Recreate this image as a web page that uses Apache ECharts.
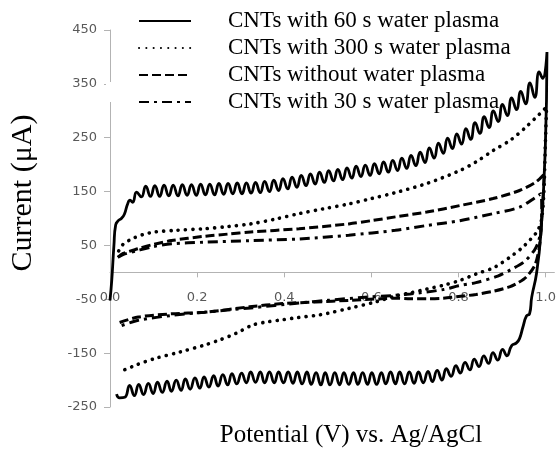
<!DOCTYPE html>
<html><head><meta charset="utf-8">
<script src="https://cdn.jsdelivr.net/npm/echarts@6/dist/echarts.min.js"></script>
<style>html,body{margin:0;padding:0;background:#fff}#c{width:559px;height:454px}</style>
</head><body><div id="c"></div>
<script>
const seriesNames = ['CNTs with 60 s water plasma','CNTs with 300 s water plasma','CNTs without water plasma','CNTs with 30 s water plasma'];
const xTicks = [0, 0.2, 0.4, 0.6, 0.8, 1.0];
const yTicks = [-250, -150, -50, 50, 150, 250, 350, 450];

// 60 s (solid) : forward scan rise, ripple, reversal, reverse ripple
const s60Rise = [[0.000,-52],[0.004,-15],[0.009,50],[0.013,88],[0.019,96],[0.026,100],[0.033,108],[0.040,126],[0.046,134],[0.052,130]];
const s60Top = [[0.061,149],[0.072,140],[0.082,160],[0.093,141],[0.103,161],[0.114,141],[0.124,162],[0.135,142],[0.145,162],[0.156,142],[0.166,163],[0.177,143],[0.187,163],[0.198,143],[0.208,164],[0.219,144],[0.229,164],[0.240,144],[0.250,165],[0.261,145],[0.271,165],[0.282,146],[0.292,166],[0.303,146],[0.313,166],[0.324,147],[0.334,167],[0.345,148],[0.355,169],[0.366,150],[0.376,171],[0.387,152],[0.397,174],[0.408,155],[0.418,177],[0.429,158],[0.439,180],[0.450,161],[0.460,183],[0.471,164],[0.481,186],[0.492,167],[0.502,189],[0.513,170],[0.523,191],[0.534,172],[0.544,194],[0.555,175],[0.565,197],[0.576,178],[0.586,199],[0.597,180],[0.607,202],[0.618,183],[0.628,205],[0.639,186],[0.649,208],[0.660,189],[0.670,212],[0.681,193],[0.691,217],[0.702,198],[0.712,223],[0.723,204],[0.733,231],[0.744,212],[0.754,240],[0.765,221],[0.775,249],[0.786,230],[0.796,257],[0.807,238],[0.817,267],[0.828,247],[0.838,278],[0.849,258],[0.859,289],[0.870,269],[0.880,300],[0.891,280],[0.901,312],[0.912,291],[0.922,324],[0.933,302],[0.943,336],[0.954,313],[0.964,352],[0.975,325],[0.985,372],[0.993,360],[1.003,409]];
const s60Turn = [[0.999,226],[0.989,72],[0.979,-2],[0.968,-46],[0.963,-77],[0.956,-81],[0.948,-101],[0.940,-123],[0.933,-131]];
const s60Bottom = [[0.922,-136],[0.911,-155],[0.901,-143],[0.890,-163],[0.879,-149],[0.869,-169],[0.858,-155],[0.847,-175],[0.836,-161],[0.826,-181],[0.815,-167],[0.804,-187],[0.794,-173],[0.783,-193],[0.772,-179],[0.762,-200],[0.751,-182],[0.740,-203],[0.730,-184],[0.719,-205],[0.708,-185],[0.698,-206],[0.687,-185],[0.676,-207],[0.665,-185],[0.655,-207],[0.644,-185],[0.633,-207],[0.623,-186],[0.612,-208],[0.601,-186],[0.591,-208],[0.580,-186],[0.569,-208],[0.559,-186],[0.548,-208],[0.537,-186],[0.527,-209],[0.516,-186],[0.505,-209],[0.494,-186],[0.484,-209],[0.473,-186],[0.462,-208],[0.452,-185],[0.441,-207],[0.430,-185],[0.420,-206],[0.409,-185],[0.398,-205],[0.387,-185],[0.377,-205],[0.366,-185],[0.355,-205],[0.345,-185],[0.334,-204],[0.323,-185],[0.313,-205],[0.302,-187],[0.291,-207],[0.280,-188],[0.270,-209],[0.259,-190],[0.248,-211],[0.238,-192],[0.227,-213],[0.216,-194],[0.206,-215],[0.195,-196],[0.184,-217],[0.173,-198],[0.163,-219],[0.152,-200],[0.141,-221],[0.131,-202],[0.120,-223],[0.109,-204],[0.099,-225],[0.088,-206],[0.077,-227],[0.066,-208],[0.056,-229],[0.045,-210],[0.034,-232],[0.022,-233],[0.015,-226]];

// 300 s (dotted)
const s300Top = [[0.020,40],[0.030,52],[0.050,62],[0.075,70],[0.103,75],[0.150,78],[0.217,81],[0.270,85],[0.323,90],[0.380,99],[0.434,109],[0.490,118],[0.548,127],[0.600,137],[0.655,148],[0.727,165],[0.803,189],[0.840,205],[0.879,226],[0.920,246],[0.955,270],[0.986,294],[1.002,307]];
const s300Bottom = [[0.999,230],[0.996,150],[0.991,100],[0.982,78],[0.966,62],[0.945,45],[0.921,30],[0.900,18],[0.879,8],[0.840,-3],[0.803,-15],[0.765,-24],[0.727,-31],[0.690,-38],[0.655,-44],[0.609,-55],[0.548,-67],[0.500,-76],[0.472,-80],[0.430,-84],[0.396,-88],[0.360,-92],[0.327,-98],[0.290,-113],[0.250,-126],[0.217,-135],[0.160,-148],[0.103,-160],[0.060,-172],[0.019,-186]];

// without plasma (dashed)
const s0Top = [[0.018,28],[0.030,35],[0.065,44],[0.100,52],[0.141,59],[0.217,67],[0.270,71],[0.323,75],[0.434,81],[0.548,90],[0.600,96],[0.655,103],[0.727,112],[0.803,124],[0.879,137],[0.940,152],[0.978,168],[0.997,183]];
const s0Bottom = [[0.995,150],[0.991,100],[0.986,50],[0.975,13],[0.955,-9],[0.935,-20],[0.917,-27],[0.880,-35],[0.840,-41],[0.800,-45],[0.765,-48],[0.727,-49],[0.690,-49],[0.655,-48],[0.624,-49],[0.548,-52],[0.472,-55],[0.396,-58],[0.320,-64],[0.217,-74],[0.141,-77],[0.065,-83],[0.015,-95]];

// 30 s (dash-dot)
const s30Top = [[0.018,28],[0.030,33],[0.065,41],[0.100,48],[0.141,53],[0.217,56],[0.323,59],[0.434,62],[0.548,69],[0.655,78],[0.727,87],[0.803,96],[0.879,109],[0.940,121],[0.978,140],[0.989,146]];
const s30Bottom = [[0.991,115],[0.989,78],[0.983,56],[0.974,41],[0.951,20],[0.920,5],[0.890,-7],[0.840,-19],[0.800,-25],[0.765,-32],[0.689,-40],[0.650,-43],[0.586,-46],[0.500,-52],[0.434,-57],[0.323,-66],[0.217,-74],[0.141,-80],[0.065,-89],[0.019,-101]];

const chart = echarts.init(document.getElementById('c'), null, {renderer:'canvas'});
const axisGray = '#b3b3b3';
const labelGray = '#595959';
const gridTop = 30, gridBottom = 47, chartH = 454;
const plotH = chartH - gridTop - gridBottom;
const zeroOffset = -plotH * (0 - yTicks[0]) / (yTicks[yTicks.length-1] - yTicks[0]);
const option = {
  animation: false,
  backgroundColor: '#fff',
  grid: {left: 110, right: 2, top: gridTop, bottom: gridBottom},
  legend: {
    orient: 'vertical', left: 133, top: 4, itemWidth: 52, itemHeight: 14, itemGap: 3,
    itemStyle: {color: 'rgba(0,0,0,0)', borderWidth: 0, opacity: 0},
    textStyle: {fontFamily: 'Liberation Serif', fontSize: 23, color: '#000', padding: [0,0,0,32], lineHeight: 24},
    data: seriesNames
  },
  xAxis: {
    type: 'value', min: 0, max: 1.02, offset: zeroOffset,
    axisLine: {onZero: false, lineStyle: {color: axisGray, width: 1}},
    axisTick: {show: true, customValues: xTicks, length: 5, lineStyle: {color: axisGray}},
    axisLabel: {customValues: xTicks, formatter: v => v.toFixed(1), margin: 19, color: labelGray, fontFamily: 'DejaVu Sans', fontSize: 13},
    splitLine: {show: false}
  },
  yAxis: {
    type: 'value', min: yTicks[0], max: yTicks[yTicks.length-1], interval: 100,
    axisLine: {show: true, onZero: false, lineStyle: {color: axisGray, width: 1}},
    axisTick: {show: true, length: 6, lineStyle: {color: axisGray}},
    axisLabel: {margin: 13, color: labelGray, fontFamily: 'DejaVu Sans', fontSize: 13},
    splitLine: {show: false}
  },
  graphic: [
    {type: 'rect', shape: {x: 106, y: 82, width: 8, height: 20}, style: {fill: '#fff'}, z: 100},
    {type: 'text', x: 23, y: 193, rotation: Math.PI/2, style: {text: 'Current (μA)', font: '30px "Liberation Serif"', fill: '#000', align: 'center', verticalAlign: 'middle'}},
    {type: 'text', x: 351, y: 435, style: {text: 'Potential (V) vs. Ag/AgCl', font: '25px "Liberation Serif"', fill: '#000', align: 'center', verticalAlign: 'middle'}}
  ],
  series: [
    {name: seriesNames[0], type: 'line', symbol: 'none', smooth: 0.5, clip: false, data: s60Rise.concat(s60Top, s60Turn, s60Bottom),
     lineStyle: {color: '#000', width: 2.8, type: 'solid'}, itemStyle: {color: '#000'}, z: 5},
    {name: seriesNames[1], type: 'line', symbol: 'none', smooth: 0.3, clip: false, data: s300Top.concat(s300Bottom),
     lineStyle: {color: '#000', width: 3.6, type: [0.1, 7.2], cap: 'round'}, itemStyle: {color: '#000'}, z: 4},
    {name: seriesNames[2], type: 'line', symbol: 'none', smooth: 0.3, clip: false, data: s0Top.concat(s0Bottom),
     lineStyle: {color: '#000', width: 3, type: [9, 4]}, itemStyle: {color: '#000'}, z: 3},
    {name: seriesNames[3], type: 'line', symbol: 'none', smooth: 0.3, clip: false, data: s30Top.concat(s30Bottom),
     lineStyle: {color: '#000', width: 3, type: [10, 5, 3, 5]}, itemStyle: {color: '#000'}, z: 3}
  ]
};
chart.setOption(option);
</script></body></html>
